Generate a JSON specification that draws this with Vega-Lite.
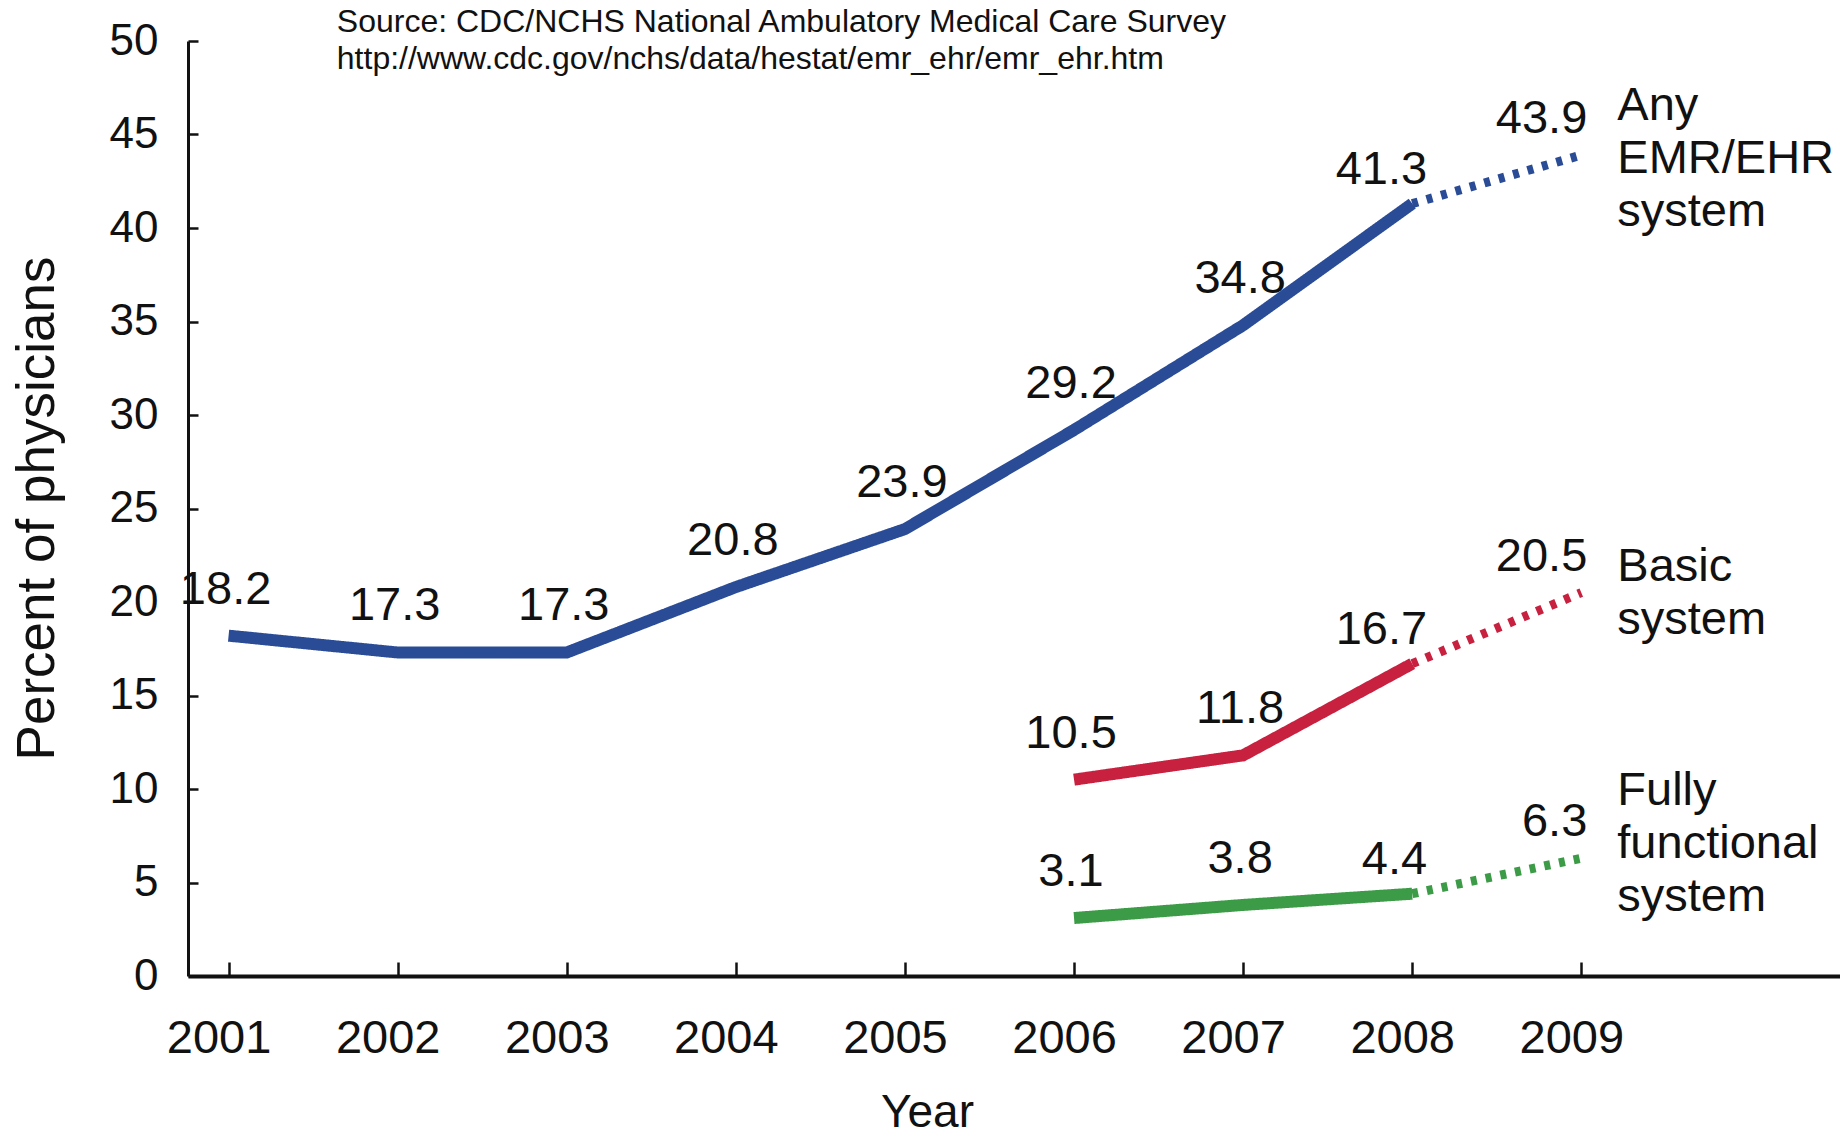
{
  "$schema": "https://vega.github.io/schema/vega-lite/v6.json",
  "width": 1652,
  "height": 935,
  "autosize": {"type": "none"},
  "padding": {"left": 188, "top": 41, "right": 0, "bottom": 160},
  "background": "white",
  "config": {
    "view": {"stroke": null},
    "font": "Liberation Sans",
    "text": {"color": "#111111", "font": "Liberation Sans"}
  },
  "datasets": {
    "points": [
      {"series": "Any", "segment": "actual", "year": 2001, "value": 18.2},
      {"series": "Any", "segment": "actual", "year": 2002, "value": 17.3},
      {"series": "Any", "segment": "actual", "year": 2003, "value": 17.3},
      {"series": "Any", "segment": "actual", "year": 2004, "value": 20.8},
      {"series": "Any", "segment": "actual", "year": 2005, "value": 23.9},
      {"series": "Any", "segment": "actual", "year": 2006, "value": 29.2},
      {"series": "Any", "segment": "actual", "year": 2007, "value": 34.8},
      {"series": "Any", "segment": "actual", "year": 2008, "value": 41.3},
      {"series": "Any", "segment": "projected", "year": 2008, "value": 41.3},
      {"series": "Any", "segment": "projected", "year": 2009, "value": 43.9},
      {"series": "Basic", "segment": "actual", "year": 2006, "value": 10.5},
      {"series": "Basic", "segment": "actual", "year": 2007, "value": 11.8},
      {"series": "Basic", "segment": "actual", "year": 2008, "value": 16.7},
      {"series": "Basic", "segment": "projected", "year": 2008, "value": 16.7},
      {"series": "Basic", "segment": "projected", "year": 2009, "value": 20.5},
      {"series": "Fully", "segment": "actual", "year": 2006, "value": 3.1},
      {"series": "Fully", "segment": "actual", "year": 2007, "value": 3.8},
      {"series": "Fully", "segment": "actual", "year": 2008, "value": 4.4},
      {"series": "Fully", "segment": "projected", "year": 2008, "value": 4.4},
      {"series": "Fully", "segment": "projected", "year": 2009, "value": 6.3}
    ],
    "names": [
      {"series": "Any", "name": "Any\nEMR/EHR\nsystem"},
      {"series": "Basic", "name": "Basic\nsystem"},
      {"series": "Fully", "name": "Fully\nfunctional\nsystem"}
    ]
  },
  "data": {"name": "points"},
  "layer": [
    {
      "mark": {"type": "line", "strokeCap": "butt"},
      "encoding": {
        "x": {
          "field": "year", "type": "quantitative",
          "scale": {"domain": [2000.76, 2010.53], "nice": false, "zero": false},
          "axis": {
            "values": [2001, 2002, 2003, 2004, 2005, 2006, 2007, 2008, 2009],
            "format": "d", "grid": false, "labelFlush": false, "labelOverlap": false,
            "title": "Year", "titleFontSize": 46, "titleFontWeight": "normal", "titleColor": "#111111",
            "titleX": 739, "titleY": 150, "titleAlign": "center", "titleBaseline": "alphabetic",
            "labelFontSize": 47, "labelColor": "#111111", "labelPadding": 53, "labelOffset": -10,
            "tickSize": -14, "tickWidth": 2.5, "tickColor": "#111111",
            "domainColor": "#111111", "domainWidth": 4
          }
        },
        "y": {
          "field": "value", "type": "quantitative",
          "scale": {"domain": [0, 50], "nice": false},
          "axis": {
            "values": [0, 5, 10, 15, 20, 25, 30, 35, 40, 45, 50],
            "grid": false, "labelFlush": false, "labelOverlap": false,
            "title": "Percent of physicians", "titleFont": "Liberation Sans", "titleFontSize": 53,
            "titleFontWeight": "normal", "titleColor": "#111111",
            "titleAngle": -90, "titleX": -135, "titleY": 467, "titleAlign": "center", "titleBaseline": "alphabetic",
            "labelFontSize": 44, "labelColor": "#111111", "labelPadding": 40,
            "tickSize": -10, "tickWidth": 2.5, "tickColor": "#111111",
            "domainColor": "#111111", "domainWidth": 3
          }
        },
        "color": {
          "field": "series", "type": "nominal",
          "scale": {"domain": ["Any", "Basic", "Fully"], "range": ["#2A4B96", "#C8203F", "#3C9B46"]},
          "legend": null
        },
        "strokeDash": {
          "field": "segment", "type": "ordinal",
          "scale": {"domain": ["actual", "projected"], "range": [[1, 0], [6, 9]]},
          "legend": null
        },
        "strokeWidth": {
          "field": "segment", "type": "ordinal",
          "scale": {"domain": ["actual", "projected"], "range": [12, 9]},
          "legend": null
        }
      }
    },
    {
      "transform": [{"filter": "datum.segment == 'actual' && datum.year <= 2007"}],
      "mark": {"type": "text", "align": "center", "baseline": "middle", "dx": -3, "dy": -46, "fontSize": 47},
      "encoding": {
        "x": {"field": "year", "type": "quantitative"},
        "y": {"field": "value", "type": "quantitative"},
        "text": {"field": "value", "type": "quantitative", "format": ".1f"}
      }
    },
    {
      "transform": [{"filter": "datum.segment == 'actual' && datum.year == 2008"}],
      "mark": {"type": "text", "align": "right", "baseline": "middle", "dx": 15, "dy": -34, "fontSize": 47},
      "encoding": {
        "x": {"field": "year", "type": "quantitative"},
        "y": {"field": "value", "type": "quantitative"},
        "text": {"field": "value", "type": "quantitative", "format": ".1f"}
      }
    },
    {
      "transform": [{"filter": "datum.segment == 'projected' && datum.year == 2009"}],
      "mark": {"type": "text", "align": "right", "baseline": "middle", "dx": 6, "dy": -36, "fontSize": 47},
      "encoding": {
        "x": {"field": "year", "type": "quantitative"},
        "y": {"field": "value", "type": "quantitative"},
        "text": {"field": "value", "type": "quantitative", "format": ".1f"}
      }
    },
    {
      "transform": [
        {"filter": "datum.segment == 'projected' && datum.year == 2009 && datum.series == 'Any'"},
        {"lookup": "series", "from": {"data": {"name": "names"}, "key": "series", "fields": ["name"]}}
      ],
      "mark": {"type": "text", "align": "left", "baseline": "middle", "dx": 36, "dy": -49, "fontSize": 47, "lineHeight": 53, "lineBreak": "\n"},
      "encoding": {
        "x": {"field": "year", "type": "quantitative"},
        "y": {"field": "value", "type": "quantitative"},
        "text": {"field": "name", "type": "nominal"}
      }
    },
    {
      "transform": [
        {"filter": "datum.segment == 'projected' && datum.year == 2009 && datum.series == 'Basic'"},
        {"lookup": "series", "from": {"data": {"name": "names"}, "key": "series", "fields": ["name"]}}
      ],
      "mark": {"type": "text", "align": "left", "baseline": "middle", "dx": 36, "dy": -26, "fontSize": 47, "lineHeight": 53, "lineBreak": "\n"},
      "encoding": {
        "x": {"field": "year", "type": "quantitative"},
        "y": {"field": "value", "type": "quantitative"},
        "text": {"field": "name", "type": "nominal"}
      }
    },
    {
      "transform": [
        {"filter": "datum.segment == 'projected' && datum.year == 2009 && datum.series == 'Fully'"},
        {"lookup": "series", "from": {"data": {"name": "names"}, "key": "series", "fields": ["name"]}}
      ],
      "mark": {"type": "text", "align": "left", "baseline": "middle", "dx": 36, "dy": -67, "fontSize": 47, "lineHeight": 53, "lineBreak": "\n"},
      "encoding": {
        "x": {"field": "year", "type": "quantitative"},
        "y": {"field": "value", "type": "quantitative"},
        "text": {"field": "name", "type": "nominal"}
      }
    },
    {
      "data": {"values": [{"note": "Source: CDC/NCHS National Ambulatory Medical Care Survey\nhttp://www.cdc.gov/nchs/data/hestat/emr_ehr/emr_ehr.htm"}]},
      "mark": {"type": "text", "align": "left", "baseline": "middle", "fontSize": 32, "lineHeight": 37, "lineBreak": "\n"},
      "encoding": {
        "x": {"datum": 2001.64, "type": "quantitative"},
        "y": {"datum": 51.02, "type": "quantitative"},
        "text": {"field": "note", "type": "nominal"}
      }
    }
  ]
}
